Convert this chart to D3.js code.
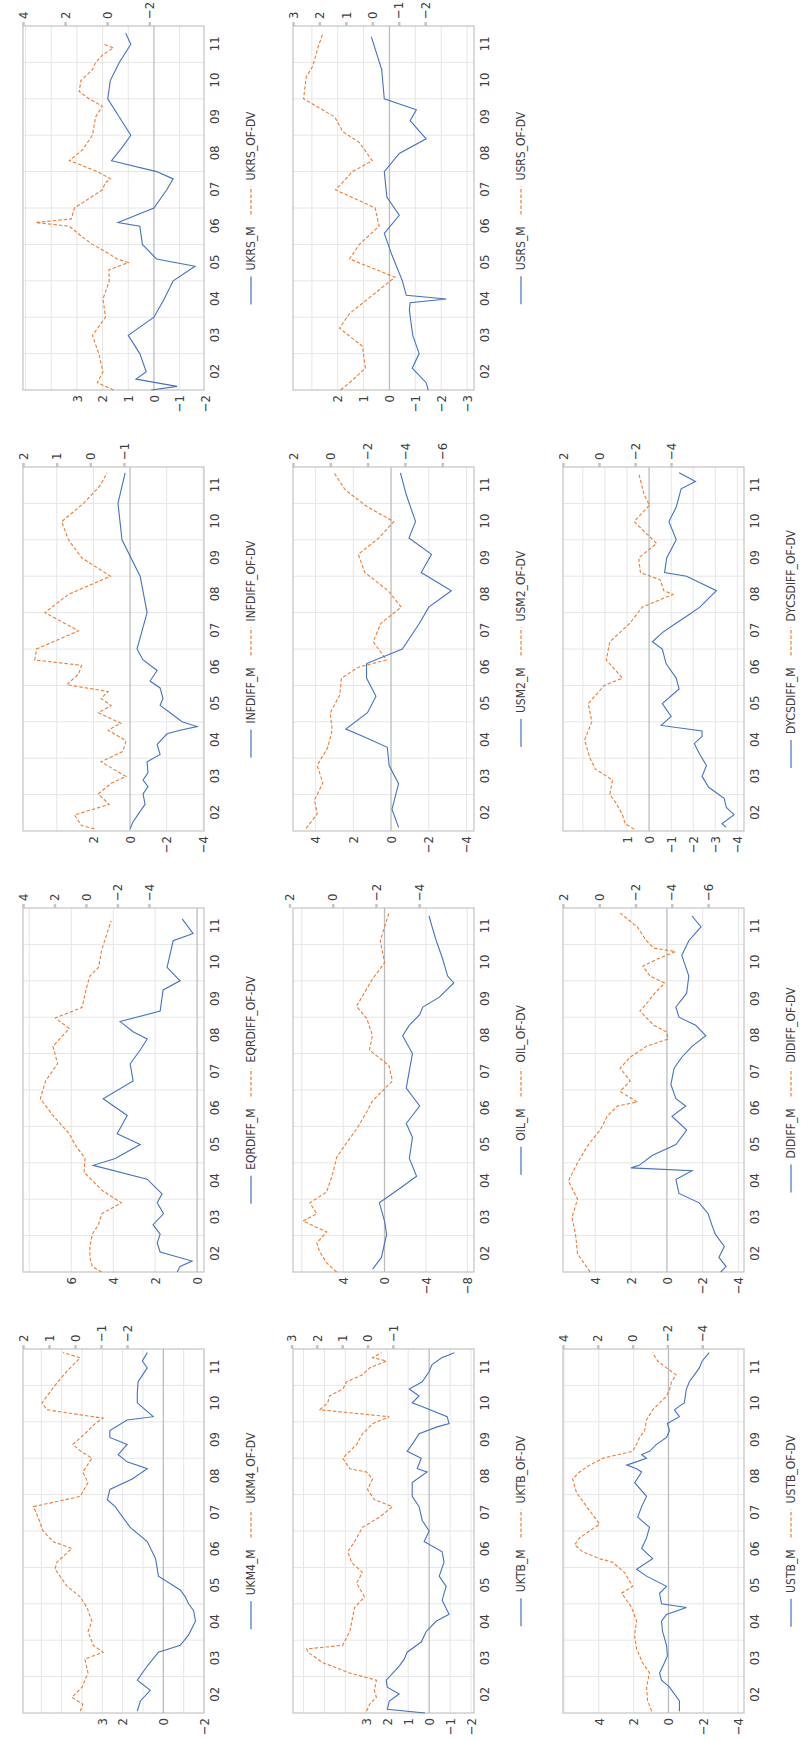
<!DOCTYPE html>
<html><head><meta charset="utf-8">
<script src="https://cdn.jsdelivr.net/npm/d3@7"></script>
<style>
html,body{margin:0;padding:0;background:#fff;}
svg text{font-family:"Liberation Sans Narrow","DejaVu Sans Condensed","Liberation Sans",sans-serif;fill:#404040;font-size:13px;}
</style></head><body>
<svg id="c" width="801" height="1740"></svg>
<script>
const yearLabels = ["02","03","04","05","06","07","08","09","10","11"];
const years = [2002,2003,2004,2005,2006,2007,2008,2009,2010,2011];

const UKRS_M = [[2002.0,0.1],[2002.1,-0.9],[2002.3,0.7],[2002.5,0.3],[2003.0,0.55],[2003.5,1.0],[2004.0,0],[2004.5,-0.4],[2005.0,-0.75],[2005.4,-1.6],[2005.6,-0.1],[2006.0,0.45],[2006.5,0.55],[2006.6,1.4],[2007.0,0],[2007.5,-0.5],[2007.8,-0.75],[2008.0,-0.1],[2008.3,1.65],[2008.7,1.2],[2009.0,0.9],[2009.5,1.35],[2010.0,1.8],[2010.5,1.7],[2011.0,1.35],[2011.5,0.9],[2011.8,1.1]];
const UKRS_OF = [[2002.0,-0.3],[2002.2,0.47],[2002.5,0.2],[2003.0,0.4],[2003.5,0.7],[2004.0,0.08],[2004.5,0.2],[2005.0,-0.1],[2005.3,-0.08],[2005.5,-1.0],[2005.6,-0.47],[2005.8,0.08],[2006.0,0.7],[2006.2,1.17],[2006.5,1.8],[2006.6,3.4],[2006.7,1.7],[2007.0,1.56],[2007.2,1.02],[2007.5,0.23],[2007.7,0.08],[2007.8,-0.16],[2008.0,0.47],[2008.2,1.33],[2008.3,1.8],[2008.6,1.17],[2009.0,0.7],[2009.5,0.55],[2009.8,0.23],[2010.0,0.86],[2010.2,1.33],[2010.5,1.25],[2010.8,0.7],[2011.0,0.55],[2011.2,0.23],[2011.4,-0.3],[2011.5,0.16]];

const USRS_M = [[2002.0,-1.5],[2002.2,-1.42],[2002.6,-0.88],[2003.0,-1.15],[2003.5,-0.9],[2004.2,-0.77],[2004.4,-0.8],[2004.5,-2.2],[2004.6,-0.65],[2005.0,-0.5],[2005.7,-0.1],[2006.3,0.2],[2006.8,-0.38],[2007.3,0.1],[2008.0,0.2],[2008.5,-0.38],[2008.9,-1.42],[2009.4,-0.8],[2009.7,-1.04],[2010.0,0.2],[2010.8,0.3],[2011.7,0.7]];
const USRS_OF = [[2002.0,1.2],[2002.2,0.86],[2002.6,0.26],[2003.2,0.37],[2003.7,1.24],[2004.1,0.86],[2004.6,0],[2005.1,-0.86],[2005.6,0.86],[2006.0,0.49],[2006.5,-0.26],[2007.0,-0.11],[2007.5,1.39],[2008.0,0.75],[2008.3,0],[2008.8,0.49],[2009.1,1.12],[2009.5,1.42],[2010.0,2.6],[2010.6,2.5],[2010.9,2.25],[2011.4,2.06],[2011.8,1.87]];

const INFDIFF_M = [[2002.06,0],[2002.25,-0.16],[2002.54,-0.55],[2002.73,-0.82],[2003.02,-0.71],[2003.22,-0.98],[2003.4,-0.71],[2003.6,-0.98],[2003.9,-0.93],[2004.1,-1.64],[2004.38,-1.48],[2004.67,-2.02],[2004.77,-2.73],[2004.87,-3.66],[2005.0,-2.84],[2005.25,-2.19],[2005.45,-1.64],[2005.64,-1.8],[2005.93,-1.64],[2006.12,-1.09],[2006.41,-1.48],[2006.7,-0.71],[2007.0,-0.38],[2008.0,-0.93],[2009.0,-0.55],[2010.0,0.44],[2011.0,0.66],[2011.84,0.27]];
const INFDIFF_OF = [[2002.06,-0.12],[2002.15,0.26],[2002.44,0.47],[2002.73,-0.56],[2003.02,-0.24],[2003.31,-0.62],[2003.5,-1.06],[2003.9,-0.32],[2004.19,-0.97],[2004.48,-1.06],[2004.77,-0.53],[2004.96,-0.91],[2005.25,-0.24],[2005.45,-0.62],[2005.64,-0.32],[2005.83,-0.53],[2006.02,0.7],[2006.31,0.35],[2006.55,0.26],[2006.7,1.65],[2007.0,1.6],[2007.5,0.35],[2008.0,1.35],[2008.5,0.65],[2009.0,-0.6],[2009.5,0.25],[2010.0,0.65],[2010.5,0.85],[2011.0,0.2],[2011.5,-0.3],[2011.84,-0.5]];

const USM2_M = [[2002.1,-0.4],[2002.6,-0.05],[2003.3,-0.4],[2003.8,0.1],[2004.3,0.2],[2004.6,1.5],[2004.8,2.4],[2005.25,1.25],[2005.7,0.8],[2006.2,1.3],[2006.6,1.3],[2007.0,-0.6],[2007.7,-1.5],[2008.15,-2.0],[2008.6,-3.2],[2009.1,-1.6],[2009.6,-2.15],[2010.05,-0.95],[2010.5,-1.3],[2011.25,-0.8],[2011.84,-0.5]];
const USM2_OF = [[2002.07,1.3],[2002.47,0.7],[2002.85,0.85],[2003.32,0.4],[2003.8,0.7],[2004.28,0.15],[2004.77,-0.1],[2005.25,0],[2005.73,-0.5],[2006.2,-0.6],[2006.5,-1.5],[2006.7,-3.0],[2007.2,-2.3],[2007.7,-2.7],[2008.15,-3.8],[2008.6,-3.1],[2009.1,-1.85],[2009.6,-1.5],[2010.05,-2.6],[2010.5,-3.4],[2010.9,-2.0],[2011.37,-0.8],[2011.84,-0.2]];

const DYCSDIFF_M = [[2002.1,-3.5],[2002.2,-3.3],[2002.45,-3.85],[2002.65,-3.5],[2002.9,-3.4],[2003.2,-2.7],[2003.5,-2.4],[2003.8,-2.6],[2004.1,-2.3],[2004.4,-2.05],[2004.6,-2.4],[2004.75,-2.4],[2004.9,-0.55],[2005.15,-1.0],[2005.5,-0.6],[2005.9,-1.36],[2006.2,-1.23],[2006.6,-0.77],[2007.0,-0.6],[2007.2,-0.15],[2007.45,-0.6],[2007.7,-1.2],[2007.9,-1.7],[2008.15,-2.3],[2008.6,-3.05],[2009.0,-1.7],[2009.1,-0.7],[2009.5,-0.8],[2010.0,-1.23],[2010.5,-0.9],[2010.9,-1.23],[2011.4,-1.45],[2011.6,-2.1],[2011.84,-1.36]];
const DYCSDIFF_OF = [[2002.05,-1.95],[2002.2,-1.45],[2002.45,-1.3],[2002.8,-0.9],[2003.0,-0.6],[2003.4,-0.75],[2003.7,0.2],[2004.0,0.5],[2004.5,0.8],[2005.0,0.4],[2005.5,0.6],[2006.0,-0.3],[2006.2,-1.3],[2006.7,-0.4],[2007.2,-0.6],[2007.7,-1.7],[2008.15,-2.4],[2008.5,-4.1],[2008.6,-3.6],[2008.9,-3.4],[2009.1,-2.3],[2009.5,-2.2],[2009.9,-3.2],[2010.5,-1.95],[2010.95,-2.8],[2011.25,-2.5],[2011.84,-2.2]];

const EQRDIFF_M = [[2002.0,0.95],[2002.15,0.81],[2002.3,0.24],[2002.55,1.76],[2002.8,1.9],[2003.04,1.76],[2003.3,2.1],[2003.6,1.6],[2003.9,1.9],[2004.15,1.67],[2004.55,2.38],[2004.93,4.95],[2005.12,3.9],[2005.5,2.71],[2005.8,3.81],[2006.3,3.33],[2006.76,4.48],[2007.25,3.05],[2007.72,3.19],[2008.1,2.71],[2008.4,2.38],[2008.6,3.05],[2008.88,3.67],[2009.17,1.76],[2009.75,1.62],[2010.0,0.81],[2010.37,1.43],[2011.1,1.14],[2011.3,0.19],[2011.7,0.71]];
const EQRDIFF_OF = [[2002.0,-1.0],[2002.15,-0.4],[2002.4,-0.25],[2002.7,-0.25],[2003.04,-0.4],[2003.3,-0.8],[2003.6,-1.0],[2003.9,-2.25],[2004.25,-1.0],[2004.74,0.12],[2005.12,0.06],[2005.5,0.7],[2005.8,1.06],[2006.3,2.1],[2006.76,2.9],[2007.25,2.56],[2007.72,1.8],[2008.2,2.1],[2008.69,1.06],[2008.98,1.94],[2009.27,0.25],[2009.85,-0.06],[2010.13,-0.25],[2010.37,-0.8],[2010.85,-1.0],[2011.65,-1.6]];

const OIL_M = [[2002.08,1.15],[2002.4,0.3],[2003.04,-0.2],[2003.4,0],[2003.9,0.5],[2004.3,-1.5],[2004.63,-3.1],[2005.12,-2.4],[2005.7,-2.7],[2006.08,-2.1],[2006.56,-3.4],[2007.05,-2.1],[2007.53,-2.4],[2008.0,-2.7],[2008.49,-1.75],[2008.78,-2.4],[2009.07,-3.4],[2009.28,-3.7],[2009.55,-5.3],[2009.94,-6.7],[2010.13,-6.1],[2010.62,-5.6],[2011.1,-5.0],[2011.48,-4.6],[2011.78,-4.3]];
const OIL_OF = [[2002.0,-0.18],[2002.25,0.28],[2002.55,0.6],[2002.8,0.74],[2003.1,0.28],[2003.4,1.38],[2003.6,0.74],[2003.9,1.06],[2004.2,0.28],[2004.7,0],[2005.15,-0.18],[2005.55,-0.64],[2005.92,-1.1],[2006.4,-1.57],[2006.7,-1.84],[2007.25,-2.76],[2007.67,-2.6],[2008.1,-1.7],[2008.5,-1.84],[2008.97,-1.57],[2009.3,-1.1],[2010.05,-1.84],[2010.5,-2.4],[2011.1,-2.2],[2011.86,-2.6]];

const DIDIFF_M = [[2002.0,-3.0],[2002.15,-3.3],[2002.4,-2.9],[2002.7,-3.2],[2003.04,-2.7],[2003.3,-2.5],[2003.6,-2.3],[2003.9,-1.8],[2004.16,-0.67],[2004.54,-0.5],[2004.78,-1.4],[2004.86,2.0],[2004.93,1.55],[2005.2,0.83],[2005.5,-0.5],[2005.9,-1.1],[2006.28,-0.28],[2006.56,-1.05],[2006.76,-0.5],[2007.15,-0.22],[2007.6,-0.4],[2007.9,-0.83],[2008.2,-1.4],[2008.49,-2.17],[2008.78,-1.6],[2009.0,-0.67],[2009.28,-0.5],[2009.66,-1.1],[2010.13,-1.22],[2010.7,-0.83],[2011.1,-1.22],[2011.48,-1.9],[2011.78,-1.4]];
const DIDIFF_OF = [[2002.0,0.5],[2002.5,1.2],[2003.0,1.3],[2003.5,1.5],[2004.0,1.2],[2004.5,1.7],[2005.0,1.2],[2005.5,0.6],[2005.9,-0.05],[2006.28,-0.44],[2006.56,-1.0],[2006.67,-2.1],[2006.96,-1.15],[2007.25,-1.7],[2007.6,-1.15],[2007.9,-1.7],[2008.2,-2.6],[2008.4,-3.8],[2008.6,-3.7],[2008.78,-3.0],[2009.17,-2.24],[2009.37,-2.6],[2009.66,-3.06],[2009.94,-3.6],[2010.13,-2.8],[2010.4,-2.4],[2010.6,-3.2],[2010.8,-4.2],[2010.9,-3.0],[2011.1,-2.6],[2011.48,-2.1],[2011.86,-1.15]];

const UKM4_M = [[2002.05,1.28],[2002.33,1.13],[2002.62,0.64],[2002.9,1.28],[2003.29,0.79],[2003.67,0.24],[2003.86,-0.83],[2004.14,-1.24],[2004.52,-1.58],[2004.81,-1.49],[2005.0,-1.24],[2005.19,-1.08],[2005.38,-0.83],[2005.76,0.24],[2006.24,0.38],[2006.71,0.79],[2007.1,1.63],[2007.67,2.37],[2007.86,2.75],[2008.14,2.63],[2008.43,1.53],[2008.71,0.79],[2008.9,1.78],[2009.1,2.22],[2009.38,1.78],[2009.57,2.63],[2009.76,2.63],[2010.05,1.78],[2010.14,0.5],[2010.52,1.28],[2010.8,1.28],[2011.1,1.24],[2011.48,0.79],[2011.67,1.03],[2011.9,0.79]];
const UKM4_OF = [[2002.05,-0.2],[2002.24,-0.3],[2002.43,0.12],[2002.71,-0.27],[2003.1,-0.5],[2003.48,-0.38],[2003.67,-1.08],[2003.86,-0.7],[2004.24,-0.5],[2004.52,-0.65],[2004.9,-0.46],[2005.19,-0.2],[2005.48,0.3],[2005.95,0.77],[2006.14,0.7],[2006.52,0.12],[2006.71,0.85],[2007.0,1.23],[2007.38,1.42],[2007.67,1.6],[2007.95,-0.2],[2008.33,-0.5],[2008.62,-0.3],[2009.0,-0.65],[2009.2,-0.2],[2009.38,0.08],[2009.67,-0.38],[2009.95,-0.77],[2010.1,-1.08],[2010.33,1.08],[2010.52,1.27],[2011.0,0.77],[2011.4,0.3],[2011.76,-0.2],[2011.9,0.46]];

const UKTB_M = [[2002.0,0.2],[2002.1,2.0],[2002.33,1.9],[2002.52,1.43],[2002.71,2.0],[2002.9,2.05],[2003.29,1.43],[2003.48,1.19],[2003.67,1.05],[2003.95,0.38],[2004.24,0.14],[2004.52,-0.33],[2004.71,-0.95],[2005.1,-0.62],[2005.48,-0.81],[2005.76,-0.48],[2006.14,-0.71],[2006.43,-0.62],[2006.71,0.24],[2007.0,0],[2007.29,0.33],[2007.67,0.48],[2007.95,0.81],[2008.33,0.81],[2008.62,0.1],[2008.71,0.57],[2009.0,0.38],[2009.19,1.05],[2009.38,0.81],[2009.67,0.48],[2009.86,-0.38],[2009.95,-0.95],[2010.14,-0.86],[2010.43,0.38],[2010.52,0.81],[2010.71,0.48],[2010.9,0.95],[2011.1,0.33],[2011.38,0],[2011.57,-0.14],[2011.76,-0.6],[2011.9,-1.2]];
const UKTB_OF = [[2002.05,0.04],[2002.24,-0.08],[2002.43,-0.35],[2002.62,-0.27],[2002.9,-0.35],[2003.1,0.7],[2003.38,1.76],[2003.67,2.35],[2003.76,2.4],[2003.86,0.98],[2004.24,0.7],[2004.62,0.59],[2004.9,0.51],[2005.19,0.12],[2005.57,0.43],[2005.86,0.2],[2006.14,0.63],[2006.43,0.78],[2006.71,0.51],[2007.1,0.2],[2007.38,-0.47],[2007.67,-0.98],[2007.86,-0.27],[2008.14,0],[2008.43,-0.2],[2008.62,0.04],[2008.71,0.7],[2009.0,0.98],[2009.38,0.43],[2009.67,0.2],[2009.95,-0.2],[2010.14,-0.86],[2010.33,1.88],[2010.52,1.57],[2010.71,1.5],[2010.9,0.98],[2011.1,0.82],[2011.29,0.2],[2011.48,-0.08],[2011.67,-0.75],[2011.76,-0.2],[2011.9,-0.55]];

const USTB_M = [[2002.05,-0.63],[2002.33,-0.63],[2002.71,-0.06],[2002.9,0.4],[2003.1,0.51],[2003.38,0.23],[2003.57,0.06],[2003.86,0.11],[2004.24,0.34],[2004.52,0.4],[2004.71,0.11],[2004.9,-1.03],[2005.0,0.4],[2005.29,0.51],[2005.48,0.11],[2005.76,1.26],[2005.95,1.83],[2006.24,0.91],[2006.52,1.54],[2006.81,1.26],[2007.1,1.09],[2007.38,1.77],[2007.67,1.54],[2007.95,1.26],[2008.33,1.94],[2008.62,1.54],[2008.71,1.83],[2008.81,2.4],[2009.0,1.26],[2009.1,1.54],[2009.19,1.09],[2009.38,0.69],[2009.57,0.11],[2009.76,-0.06],[2009.95,0.06],[2010.14,-0.63],[2010.33,-0.34],[2010.43,-0.63],[2010.52,-0.91],[2010.9,-1.03],[2011.1,-1.2],[2011.29,-1.49],[2011.48,-1.77],[2011.67,-1.94],[2011.9,-2.34]];
const USTB_OF = [[2002.05,-1.1],[2002.33,-0.86],[2002.71,-0.8],[2003.1,-0.97],[2003.38,-0.57],[2003.76,-0.23],[2004.14,-0.11],[2004.52,-0.23],[2004.9,0.06],[2005.29,0.63],[2005.48,0],[2005.86,0.46],[2006.14,1.15],[2006.24,1.9],[2006.43,2.87],[2006.62,3.33],[2006.81,3.05],[2007.19,1.9],[2007.67,2.64],[2008.05,3.22],[2008.43,3.45],[2008.62,3.05],[2008.81,2.47],[2009.0,1.7],[2009.19,0],[2009.38,-0.23],[2009.57,-0.4],[2009.76,-0.69],[2010.05,-0.8],[2010.33,-1.15],[2010.52,-1.55],[2010.71,-1.95],[2010.9,-2.13],[2011.1,-2.24],[2011.29,-2.5],[2011.48,-1.95],[2011.67,-1.44],[2011.9,-1.15]];

const panels = [
 {name:"UKRS",row:0,col:0,m:UKRS_M,of:UKRS_OF,pDomain:[-1.95,5.1],pStep:1,pTicks:[3,2,1,0,-1,-2],sDomain:[-4.6,4],sTicks:[4,2,0,-2]},
 {name:"USRS",row:0,col:1,m:USRS_M,of:USRS_OF,pDomain:[-3.27,3.73],pStep:1,pTicks:[2,1,0,-1,-2,-3],sDomain:[-3.85,3],sTicks:[3,2,1,0,-1,-2]},
 {name:"INFDIFF",row:1,col:0,m:INFDIFF_M,of:INFDIFF_OF,pDomain:[-4.04,5.85],pStep:2,pTicks:[2,0,-2,-4],sDomain:[-3.38,2],sTicks:[2,1,0,-1]},
 {name:"USM2",row:1,col:1,m:USM2_M,of:USM2_OF,pDomain:[-4.4,5.2],pStep:2,pTicks:[4,2,0,-2,-4],sDomain:[-7.7,2],sTicks:[2,0,-2,-4,-6]},
 {name:"DYCSDIFF",row:1,col:2,m:DYCSDIFF_M,of:DYCSDIFF_OF,pDomain:[-4.3,3.9],pStep:1,pTicks:[1,0,-1,-2,-3,-4],sDomain:[-8.05,2],sTicks:[2,0,-2,-4]},
 {name:"EQRDIFF",row:2,col:0,m:EQRDIFF_M,of:EQRDIFF_OF,pDomain:[-0.33,8.3],pStep:2,pTicks:[6,4,2,0],sDomain:[-7.5,4],sTicks:[4,2,0,-2,-4]},
 {name:"OIL",row:2,col:1,m:OIL_M,of:OIL_OF,pDomain:[-8.65,8.85],pStep:4,pTicks:[4,0,-4,-8],sDomain:[-6.54,1.84],sTicks:[2,0,-2,-4]},
 {name:"DIDIFF",row:2,col:2,m:DIDIFF_M,of:DIDIFF_OF,pDomain:[-4.3,5.8],pStep:2,pTicks:[4,2,0,-2,-4],sDomain:[-7.98,2],sTicks:[2,0,-2,-4,-6]},
 {name:"UKM4",row:3,col:0,m:UKM4_M,of:UKM4_OF,pDomain:[-2,6.9],pStep:1,pTicks:[3,2,0,-2],sDomain:[-4.96,2],sTicks:[2,1,0,-1,-2]},
 {name:"UKTB",row:3,col:1,m:UKTB_M,of:UKTB_OF,pDomain:[-2.14,6.5],pStep:1,pTicks:[3,2,1,0,-1,-2],sDomain:[-4.2,2.94],sTicks:[3,2,1,0,-1]},
 {name:"USTB",row:3,col:2,m:USTB_M,of:USTB_OF,pDomain:[-4.34,6.06],pStep:2,pTicks:[4,2,0,-2,-4],sDomain:[-6.4,4],sTicks:[4,2,0,-2,-4]}
];

const colX=[23,293,563], rowY=[26,467,908,1349], PW=181, PH=364;
const svg=d3.select("#c");
svg.append("rect").attr("width",801).attr("height",1740).attr("fill","#fff");

panels.forEach(p=>{
  const L=colX[p.col], T=rowY[p.row];
  const g=svg.append("g").attr("transform",`translate(${L},${T+PH}) rotate(-90)`);
  const x=d3.scaleLinear().domain([2002,2012]).range([0,PH]);
  const yP=d3.scaleLinear().domain(p.pDomain).range([PW,0]);
  const yS=d3.scaleLinear().domain(p.sDomain).range([PW,0]);
  const step=p.pStep;
  const grid=d3.range(Math.ceil(p.pDomain[0]/step-1e-9)*step, p.pDomain[1]+1e-9, step);
  g.selectAll(".hg").data(grid.filter(d=>Math.abs(d)>1e-9)).join("line")
    .attr("x1",0).attr("x2",PH).attr("y1",d=>yP(d)).attr("y2",d=>yP(d))
    .attr("stroke","#E6E6E6").attr("stroke-width",1);
  g.selectAll(".vg").data(d3.range(2003,2012)).join("line")
    .attr("x1",d=>x(d)).attr("x2",d=>x(d)).attr("y1",0).attr("y2",PW)
    .attr("stroke","#E6E6E6").attr("stroke-width",1);
  g.append("rect").attr("x",0).attr("y",0).attr("width",PH).attr("height",PW)
    .attr("fill","none").attr("stroke","#C4C4C4").attr("stroke-width",1.2);
  g.append("line").attr("x1",0).attr("x2",PH).attr("y1",yP(0)).attr("y2",yP(0))
    .attr("stroke","#BDBDBD").attr("stroke-width",1.3);

  const ax1=g.append("g").call(d3.axisLeft(yP).tickValues(p.pTicks).tickSize(0).tickPadding(5).tickFormat(d3.format("d")));
  ax1.select(".domain").remove();
  const ax2=g.append("g").attr("transform",`translate(${PH},0)`)
    .call(d3.axisRight(yS).tickValues(p.sTicks).tickSize(4).tickPadding(3).tickFormat(d3.format("d")));
  ax2.select(".domain").remove();
  ax2.selectAll(".tick line").attr("stroke","#C4C4C4").attr("stroke-width",2.5);
  const ax3=g.append("g").attr("transform",`translate(0,${PW})`)
    .call(d3.axisBottom(x).tickValues(years.map(v=>v+0.5)).tickSize(0).tickPadding(6).tickFormat((d,i)=>yearLabels[i]));
  ax3.select(".domain").remove();
  g.selectAll(".tick text").attr("fill","#404040").style("font-size","13px");

  const lineGen=ys=>d3.line().x(d=>x(d[0])).y(d=>ys(d[1]));
  g.append("path").datum(p.of).attr("d",lineGen(yS)).attr("fill","none")
    .attr("stroke","#ED7D31").attr("stroke-width",1.1).attr("stroke-dasharray","3.5,2");
  g.append("path").datum(p.m).attr("d",lineGen(yP)).attr("fill","none")
    .attr("stroke","#4472C4").attr("stroke-width",1.1);

  const lg=g.append("g").attr("transform",`translate(0,${PW+47})`);
  const t1=lg.append("text").text(p.name+"_M").attr("dy","0.35em").style("font-size","12px");
  const t2=lg.append("text").text(p.name+"_OF-DV").attr("dy","0.35em").style("font-size","12px");
  const w1=t1.node().getComputedTextLength(), w2=t2.node().getComputedTextLength();
  const total=28+6+w1+12+28+6+w2;
  const s=PH/2-total/2;
  lg.append("line").attr("x1",s).attr("x2",s+28).attr("y1",0).attr("y2",0).attr("stroke","#4472C4").attr("stroke-width",1.2);
  t1.attr("x",s+34);
  const s2=s+34+w1+12;
  lg.append("line").attr("x1",s2).attr("x2",s2+28).attr("y1",0).attr("y2",0).attr("stroke","#ED7D31").attr("stroke-width",1.2).attr("stroke-dasharray","3.5,2");
  t2.attr("x",s2+34);
});
</script>
</body></html>
